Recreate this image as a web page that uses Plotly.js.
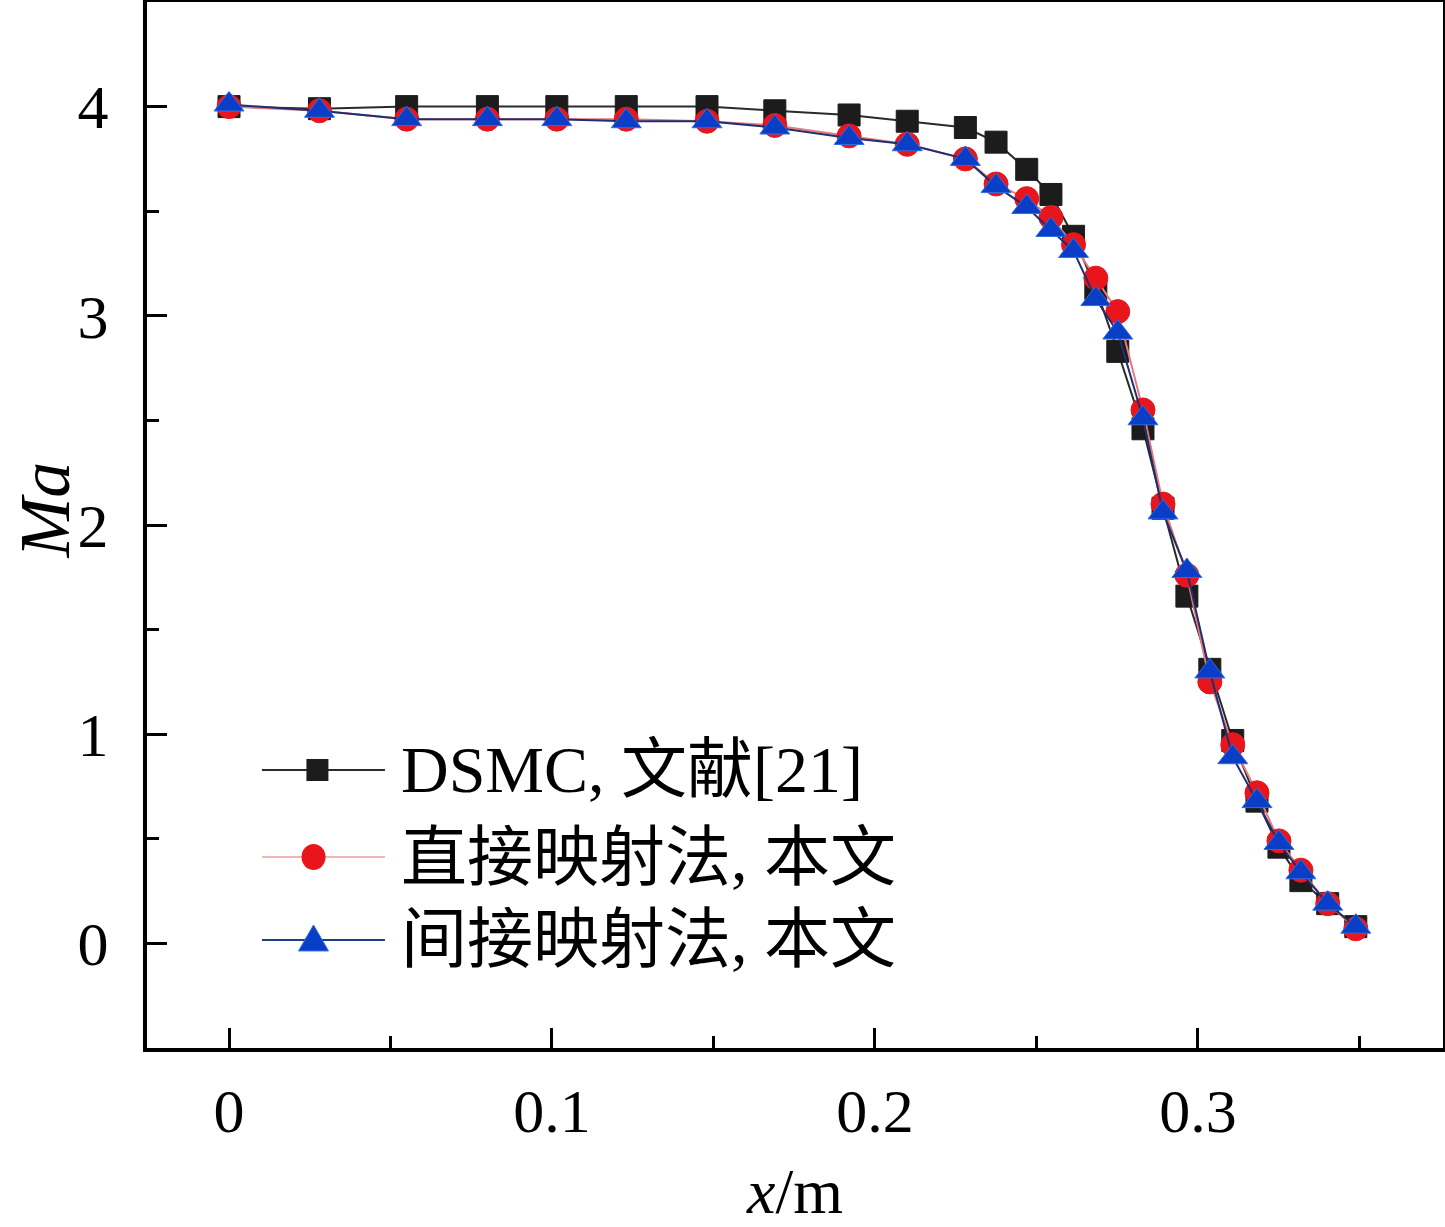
<!DOCTYPE html>
<html>
<head>
<meta charset="utf-8">
<script src="https://cdn.plot.ly/plotly-3.0.1.min.js"></script>
<style>
  html, body { margin: 0; padding: 0; background: #fff; }
  #chart { width: 1445px; height: 1227px; }
</style>
</head>
<body>
<div id="chart"></div>
<script>
// x positions (m), shared by the three series
var xPos = [0, 0.028, 0.055, 0.080, 0.1015, 0.123, 0.148, 0.169, 0.192, 0.210,
            0.228, 0.2375, 0.247, 0.2545, 0.2615, 0.2684, 0.2752, 0.283, 0.2892,
            0.2966, 0.3037, 0.3108, 0.3183, 0.3251, 0.3319, 0.3402, 0.3489];

// Mach number
var maDsmc = [4.00, 3.99, 4.00, 4.00, 4.00, 4.00, 4.00, 3.98, 3.96, 3.93,
              3.90, 3.83, 3.70, 3.58, 3.38, 3.13, 2.83, 2.46, 2.08,
              1.66, 1.31, 0.97, 0.68, 0.46, 0.30, 0.19, 0.08];
var maDirect = [4.00, 3.98, 3.94, 3.94, 3.94, 3.94, 3.93, 3.91, 3.86, 3.82,
                3.75, 3.63, 3.56, 3.47, 3.34, 3.18, 3.02, 2.55, 2.10,
                1.76, 1.25, 0.95, 0.72, 0.49, 0.35, 0.19, 0.07];
var maIndirect = [4.01, 3.98, 3.94, 3.94, 3.94, 3.93, 3.93, 3.90, 3.85, 3.82,
                  3.75, 3.62, 3.52, 3.41, 3.31, 3.08, 2.92, 2.51, 2.06,
                  1.78, 1.30, 0.89, 0.68, 0.48, 0.34, 0.19, 0.08];

var seriesNames = ['DSMC, 文献[21]', '直接映射法, 本文', '间接映射法, 本文'];
var xTickVals = [0, 0.1, 0.2, 0.3];
var xTickText = ['0', '0.1', '0.2', '0.3'];
var yTickVals = [0, 1, 2, 3, 4];

var FONT = '"Liberation Serif", "Times New Roman", "Noto Sans CJK SC", serif';

function make_trace(name, y, symbol, size, mcolor, lcolor, edge) {
    return {
        x: xPos,
        y: y,
        name: name,
        type: 'scatter',
        mode: 'lines+markers',
        line: {color: lcolor, width: 2},
        marker: {symbol: symbol, size: size, color: mcolor,
                 line: {color: edge, width: 1}},
        showlegend: false
    };
}

var data = [
    make_trace(seriesNames[0], maDsmc, 'square', 22, '#1c1c1c', '#2a2a2a', '#1c1c1c'),
    make_trace(seriesNames[1], maDirect, 'circle', 24, '#e8161c', '#e9787c', '#e8161c'),
    make_trace(seriesNames[2], maIndirect, 'triangle-up', 26, '#0a3ec6', '#1d2f72', '#2f6ee0')
];

// hand-made legend (long line samples like the original figure)
var legendRows = [0.2658, 0.1826, 0.1033];
var legendLine = ['#2a2a2a', '#f2b4b6', '#1d3f88'];
var shapes = [];
var annotations = [];
legendRows.forEach(function (yy, i) {
    shapes.push({type: 'line', xref: 'paper', yref: 'paper',
                 x0: 0.0887, x1: 0.1836, y0: yy, y1: yy,
                 line: {color: legendLine[i], width: 2}});
    annotations.push({xref: 'paper', yref: 'paper', x: 0.1945, y: yy,
                      xanchor: 'left', yanchor: 'middle', showarrow: false,
                      text: seriesNames[i],
                      font: {family: FONT, size: 66, color: '#000'}});
});
var mx = 0.1315;
shapes.push({type: 'rect', xref: 'paper', yref: 'paper', xsizemode: 'pixel', ysizemode: 'pixel',
             xanchor: mx, yanchor: legendRows[0], x0: -11, x1: 11, y0: -11, y1: 11,
             fillcolor: '#1c1c1c', line: {width: 0}});
shapes.push({type: 'circle', xref: 'paper', yref: 'paper', xsizemode: 'pixel', ysizemode: 'pixel',
             xanchor: mx - 0.003, yanchor: legendRows[1], x0: -12, x1: 12, y0: -13, y1: 13,
             fillcolor: '#e8161c', line: {width: 0}});
shapes.push({type: 'path', xref: 'paper', yref: 'paper', xsizemode: 'pixel', ysizemode: 'pixel',
             xanchor: mx - 0.003, yanchor: legendRows[2],
             path: 'M-15,-11 L15,-11 L0,15 Z',
             fillcolor: '#0a3ec6', line: {color: '#2f6ee0', width: 1}});

// y axis title placed by hand so it sits close to the left edge
annotations.push({xref: 'paper', yref: 'paper', x: -0.0785, y: 0.514,
                  xanchor: 'center', yanchor: 'middle', textangle: -90, showarrow: false,
                  text: '<i>Ma</i>', font: {family: FONT, size: 72, color: '#000'}});

var layout = {
    width: 1445,
    height: 1227,
    margin: {l: 147, r: 2, t: 2, b: 179},
    paper_bgcolor: '#fff',
    plot_bgcolor: '#fff',
    font: {family: FONT, color: '#000'},
    showlegend: false,
    xaxis: {
        range: [-0.0254, 0.3759],
        tickvals: xTickVals,
        ticktext: xTickText,
        ticks: 'inside',
        ticklen: 20,
        tickwidth: 3,
        tickcolor: '#000',
        minor: {dtick: 0.05, tick0: 0, ticks: 'inside', ticklen: 12, tickwidth: 3, tickcolor: '#000'},
        showline: true,
        linewidth: 4,
        linecolor: '#000',
        mirror: true,
        showgrid: false,
        zeroline: false,
        ticklabelstandoff: 6,
        tickfont: {family: FONT, size: 62},
        title: {text: '<i>x</i>/m', font: {family: FONT, size: 64}, standoff: 100}
    },
    yaxis: {
        range: [-0.5, 4.5],
        tickvals: yTickVals,
        ticks: 'inside',
        ticklen: 20,
        tickwidth: 3,
        tickcolor: '#000',
        minor: {dtick: 0.5, tick0: 0, ticks: 'inside', ticklen: 12, tickwidth: 3, tickcolor: '#000'},
        showline: true,
        linewidth: 4,
        linecolor: '#000',
        mirror: true,
        showgrid: false,
        zeroline: false,
        ticklabelstandoff: 22,
        tickfont: {family: FONT, size: 62}
    },
    shapes: shapes,
    annotations: annotations
};

Plotly.newPlot('chart', data, layout, {displayModeBar: false, staticPlot: true});
</script>
</body>
</html>
